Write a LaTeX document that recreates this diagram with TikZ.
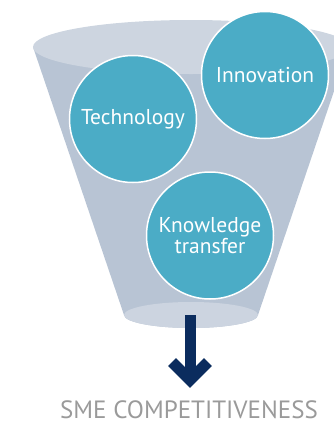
\documentclass[tikz,border=0pt]{standalone}
\usepackage{fontspec}
\setmainfont{PT Sans}
\definecolor{topc}{HTML}{CDD5E0}
\definecolor{bodyc}{HTML}{B8C4D4}
\definecolor{botc}{HTML}{CCD4E0}
\definecolor{teal}{HTML}{4BACC6}
\definecolor{navy}{HTML}{0B2C5E}
\definecolor{greytext}{HTML}{9A9A9A}
\tikzset{
  bubble/.style={circle, minimum size=127pt, inner sep=0pt, fill=teal, draw=white, line width=1.5pt, text=white, font=\fontsize{21.5}{20.5}\selectfont, align=center},
  arrowline/.style={draw=navy, line width=11pt}
}
\begin{document}
\begin{tikzpicture}[x=1pt,y=-1pt]
\useasboundingbox (0,0) rectangle (334,424);
\begin{scope}
\clip (0,0) rectangle (334,424);
% funnel body
\fill[bodyc] (33,47) -- (124,315) arc[start angle=180, end angle=360, x radius=67, y radius=-13] -- (349,47) -- cycle;
\fill[topc] (191,47) ellipse[x radius=158, y radius=27];
\fill[botc] (191,315) ellipse[x radius=67, y radius=13];
% bubbles
\node[bubble] (tech) at (133,119) {Technology};
\node[bubble] (inno) at (265,75) {Innovation};
\node[bubble] (know) at (210,235.5) {Knowledge\\transfer};
\end{scope}
% arrow
\coordinate (a1) at (190,315);
\coordinate (a2) at (190,380);
\coordinate (l) at (172,362);
\coordinate (r) at (208,362);
\draw[arrowline] (a1) -- (a2);
\draw[arrowline, miter limit=4] (l) -- (a2) -- (r);
\node[text=greytext, font=\fontsize{25}{28}\selectfont, anchor=base] (sme) at (189,418) {SME COMPETITIVENESS};
\end{tikzpicture}
\end{document}
